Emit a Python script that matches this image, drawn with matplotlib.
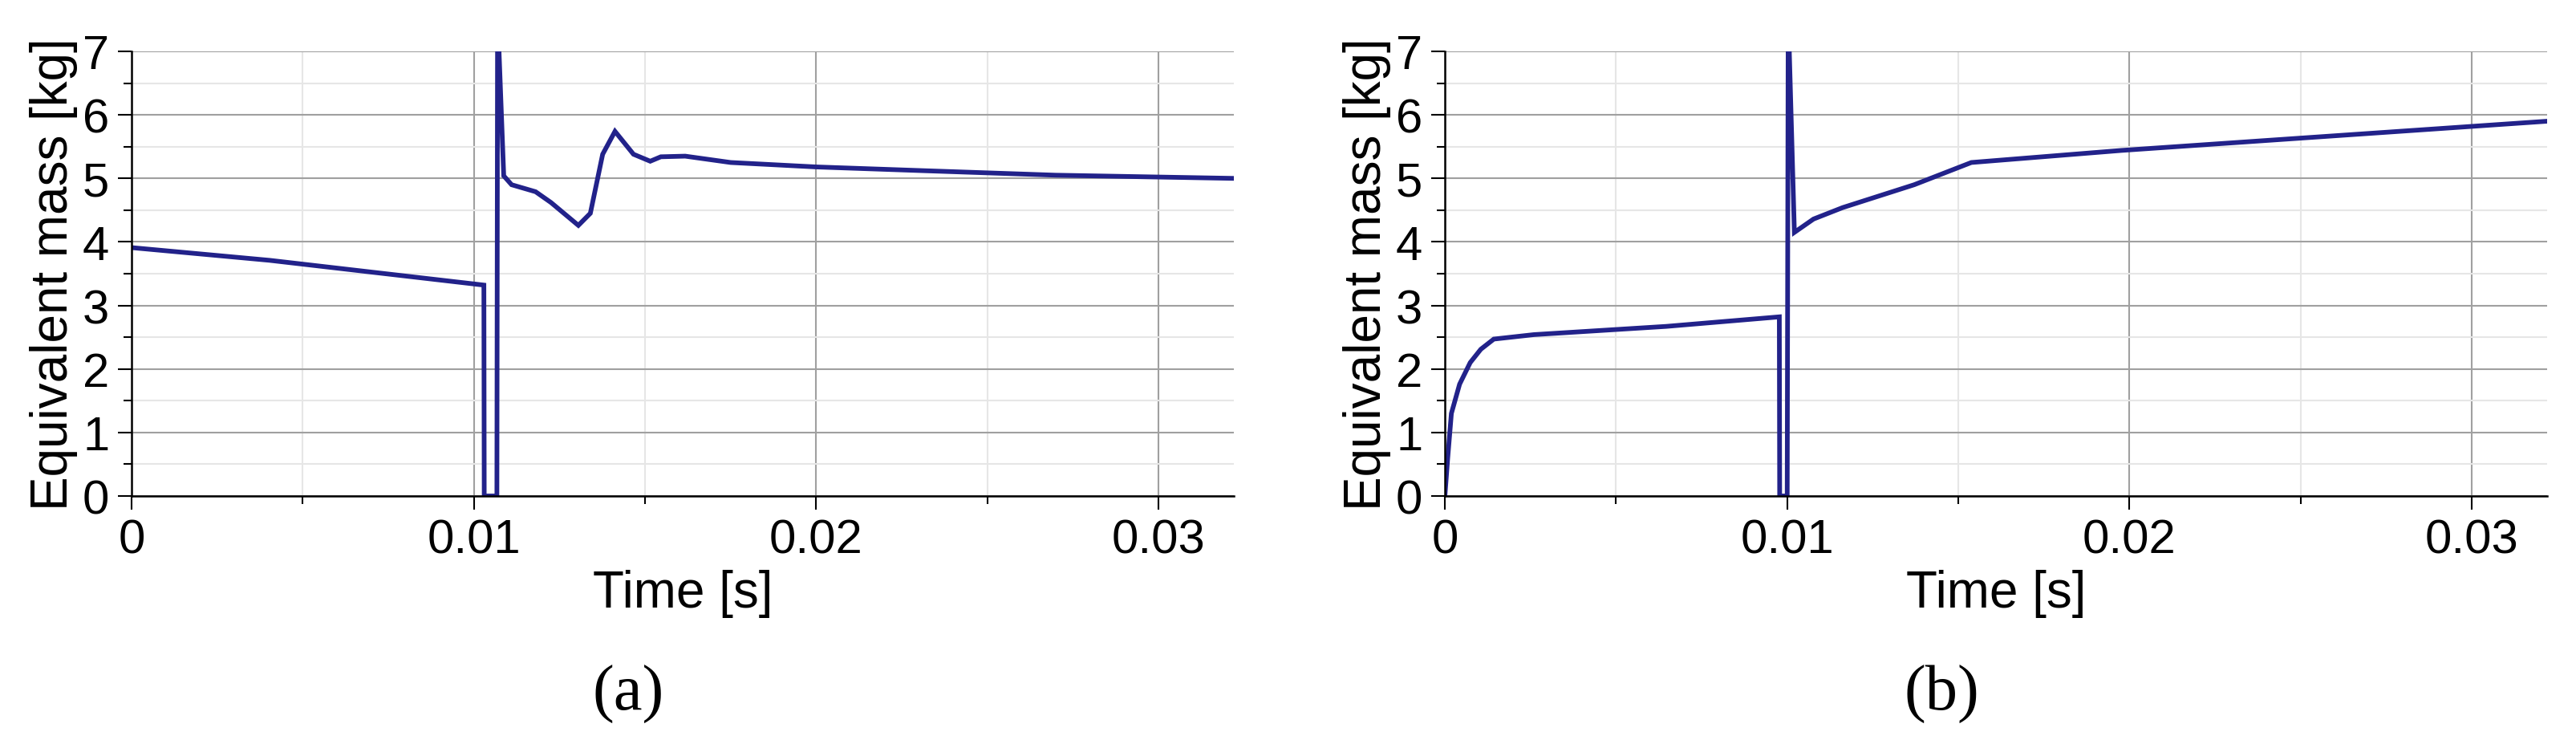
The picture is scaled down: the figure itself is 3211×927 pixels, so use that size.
import matplotlib
matplotlib.use("Agg")
import matplotlib.pyplot as plt
from matplotlib.ticker import MultipleLocator

t_a = [0.0, 0.00403, 0.01029, 0.01030, 0.01067, 0.01069, 0.01087, 0.0111, 0.0118, 0.01225,
       0.01305, 0.0134, 0.01376, 0.01412, 0.01466, 0.01515, 0.01546, 0.01617, 0.0175,
       0.0200, 0.0232, 0.027, 0.0322]
m_a = [3.91, 3.71, 3.32, 0.0, 0.0, 7.6, 5.04, 4.90, 4.79, 4.62,
       4.26, 4.45, 5.38, 5.74, 5.38, 5.27, 5.34, 5.35, 5.25,
       5.18, 5.12, 5.05, 5.00]

t_b = [0.0, 0.00008, 0.00019, 0.00043, 0.00074, 0.00105, 0.00143, 0.0026, 0.00647,
       0.00977, 0.00978, 0.0100, 0.01003, 0.01021, 0.01077, 0.01162, 0.01371, 0.01538,
       0.01976, 0.0322]
m_b = [0.0, 0.58, 1.30, 1.76, 2.10, 2.31, 2.47, 2.54, 2.67,
       2.82, 0.0, 0.0, 7.6, 4.15, 4.36, 4.54, 4.90, 5.25,
       5.44, 5.90]

xticks = [0, 0.01, 0.02, 0.03]
xticklabels = ["0", "0.01", "0.02", "0.03"]
yticks = [0, 1, 2, 3, 4, 5, 6, 7]
panel_labels = ["a", "b"]

plt.rcParams['font.family'] = ['Liberation Sans', 'DejaVu Sans']
fig = plt.figure(figsize=(32.11, 9.28), dpi=100)
color = '#22228a'
positions = [[0.0511, 0.333, 0.4279, 0.597], [0.5609, 0.333, 0.4279, 0.597]]

for pos, t, m, lab in zip(positions, [t_a, t_b], [m_a, m_b], panel_labels):
    ax = fig.add_axes(pos)
    ax.plot(t, m, color=color, lw=4.2, solid_joinstyle='miter')
    ax.set_xlim(0, 0.0322)
    ax.set_ylim(0, 7)
    ax.set_xticks(xticks)
    ax.set_xticklabels(xticklabels)
    ax.set_yticks(yticks)
    ax.xaxis.set_minor_locator(MultipleLocator(0.005))
    ax.yaxis.set_minor_locator(MultipleLocator(0.5))
    ax.grid(which='major', color='#a0a0a0', lw=1.5)
    ax.grid(which='minor', color='#e6e6e6', lw=1.5)
    ax.set_axisbelow(True)
    for s in ['top', 'right']:
        ax.spines[s].set_visible(False)
    for s in ['left', 'bottom']:
        ax.spines[s].set_linewidth(1.8)
    ax.tick_params(which='major', length=12, width=1.5, labelsize=43, pad=8)
    ax.tick_params(which='minor', length=7, width=1.5)
    ax.set_xlabel("Time [s]", fontsize=46, labelpad=6)
    ax.set_ylabel("Equivalent mass [kg]", fontsize=46, labelpad=4)
    x0 = pos[0] + pos[2] * (783 - 164) / 1374
    fig.text(x0, 1 - 865 / 928, "(" + lab + ")", fontsize=58, family='Liberation Serif',
             ha='center', va='center')
    # bold letter overlay handled via mathtext-free approach

fig.savefig("out.png", dpi=100)
